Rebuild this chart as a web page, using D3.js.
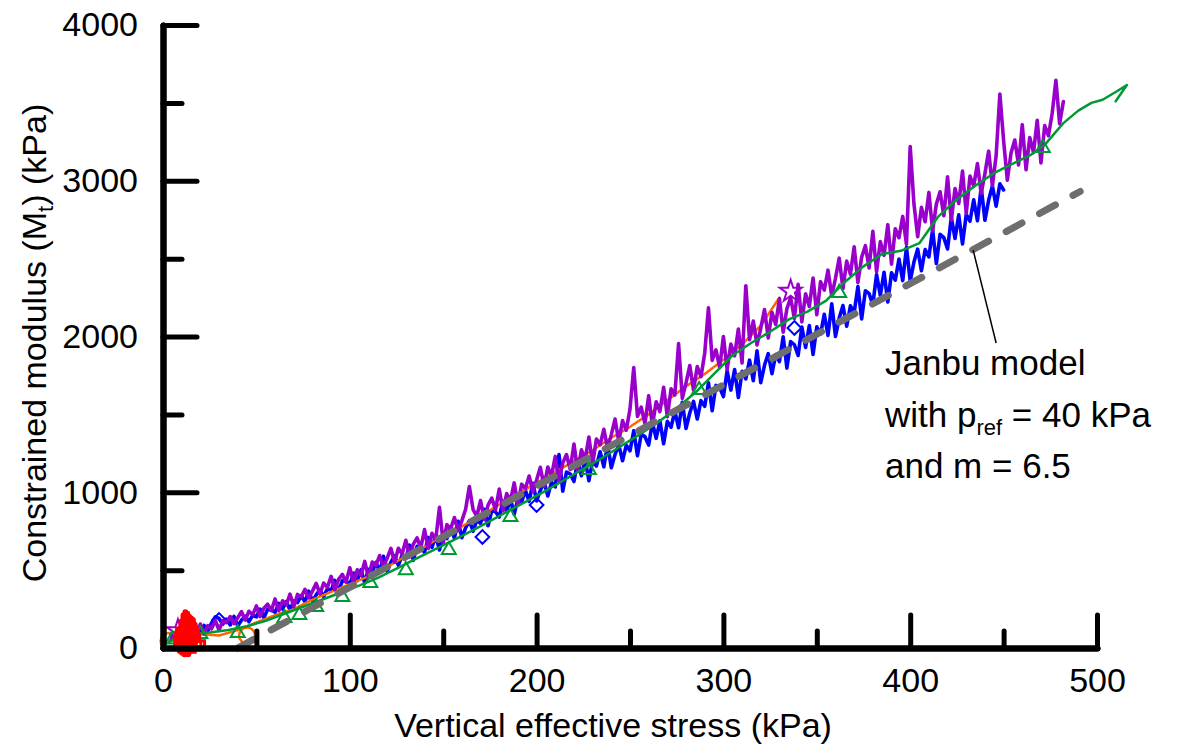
<!DOCTYPE html>
<html>
<head>
<meta charset="utf-8">
<script src="https://cdn.jsdelivr.net/npm/d3@7"></script>
<style>
  body { margin: 0; background: #fff; }
  svg { display: block; font-family: "Liberation Sans", Arial, sans-serif; }
</style>
</head>
<body>
<svg id="chart"></svg>
<script>
// ticks
const xMajor = [0, 100, 200, 300, 400, 500]
const xMinor = [50, 150, 250, 350, 450]
const yMajor = [0, 1000, 2000, 3000, 4000]
const yMinor = [500, 1500, 2500, 3500]

// [stress kPa, modulus kPa]
const purpleData = [
  [4,46],[6,96],[8,73],[10,123],[12,60],[14,106],[16,127],[18,89],[20,154],[22,89],
  [24,144],[26,123],[28,178],[30,113],[32,176],[34,163],[36,202],[38,157],[40,194],[42,234],
  [44,179],[46,236],[48,213],[50,270],[52,202],[54,255],[56,281],[58,240],[60,315],[62,239],
  [64,303],[66,277],[68,346],[70,265],[72,344],[74,328],[76,377],[78,321],[80,365],[82,415],
  [84,347],[86,417],[88,389],[90,460],[92,376],[94,441],[96,473],[98,423],[100,515],[102,421],
  [104,502],[106,467],[108,556],[110,450],[112,552],[114,530],[116,594],[118,520],[120,577],[122,640],
  [124,551],[126,640],[128,603],[130,692],[132,585],[134,667],[136,707],[138,642],[140,760],[142,639],
  [144,736],[146,696],[148,903],[150,675],[152,792],[154,766],[156,838],[158,753],[160,818],[162,891],
  [164,1036],[166,889],[168,846],[170,947],[172,824],[174,917],[176,962],[178,887],[180,1020],[182,881],
  [184,991],[186,945],[188,1060],[190,920],[192,1052],[194,1023],[196,1104],[198,1006],[200,1078],[202,1160],
  [204,1038],[206,1162],[208,1106],[210,1230],[212,1074],[214,1188],[216,1242],[218,1146],[220,1310],[222,1135],
  [224,1272],[226,1213],[228,1354],[230,1180],[232,1342],[234,1305],[236,1404],[238,1282],[240,1370],[242,1470],
  [244,1324],[246,1460],[248,1398],[250,1534],[252,1800],[254,1487],[256,1546],[258,1440],[260,1620],[262,1429],
  [264,1581],[266,1518],[268,1674],[270,1485],[272,1664],[274,1624],[276,1954],[278,1603],[280,1702],[282,1813],
  [284,1656],[286,1807],[288,1742],[290,1893],[292,2184],[294,1847],[296,1914],[298,1801],[300,2000],[302,1788],
  [304,1951],[306,1876],[308,2048],[310,1830],[312,2326],[314,1979],[316,2099],[318,1946],[320,2053],[322,2173],
  [324,1991],[326,2156],[328,2077],[330,2242],[332,2028],[334,2179],[336,2249],[338,2116],[340,2335],[342,2094],
  [344,2274],[346,2192],[348,2376],[350,2140],[352,2352],[354,2298],[356,2426],[358,2260],[360,2374],[362,2503],
  [364,2307],[366,2484],[368,2399],[370,2576],[372,2346],[374,2508],[376,2583],[378,2440],[380,2675],[382,2416],
  [384,2609],[386,2521],[388,2718],[390,2465],[392,2692],[394,2634],[396,2771],[398,2593],[400,3220],[402,2852],
  [404,2641],[406,2829],[408,2737],[410,2925],[412,2678],[414,2850],[416,2929],[418,2775],[420,3025],[422,2746],
  [424,2950],[426,2854],[428,3062],[430,2790],[432,3030],[434,2966],[436,3110],[438,2918],[440,3046],[442,3190],
  [444,2967],[446,3160],[448,3557],[450,3258],[452,3003],[454,3180],[456,3261],[458,3102],[460,3360],[462,3071],
  [464,3278],[466,3181],[468,3388],[470,3115],[472,3354],[474,3289],[476,3432],[478,3645],[480,3366],[482,3509]
]

const blueData = [
  [4,92],[6,53],[8,90],[10,77],[12,124],[14,64],[16,115],[18,109],[20,89],[22,145],
  [24,111],[26,161],[28,200],[30,190],[32,153],[34,185],[36,148],[38,203],[40,142],[42,178],
  [44,204],[46,169],[48,209],[50,200],[52,250],[54,194],[56,248],[58,246],[60,229],[62,286],
  [64,250],[66,298],[68,243],[70,303],[72,292],[74,336],[76,297],[78,365],[80,301],[82,341],
  [84,374],[86,330],[88,381],[90,369],[92,434],[94,363],[96,432],[98,430],[100,408],[102,481],
  [104,432],[106,502],[108,417],[110,505],[112,486],[114,550],[116,489],[118,589],[120,492],[122,551],
  [124,592],[126,531],[128,596],[130,577],[132,660],[134,563],[136,652],[138,645],[140,614],[142,709],
  [144,646],[146,722],[148,629],[150,725],[152,703],[154,773],[156,705],[158,814],[160,708],[162,771],
  [164,817],[166,750],[168,821],[170,800],[172,891],[174,785],[176,882],[178,875],[180,841],[182,944],
  [184,876],[186,958],[188,858],[190,961],[192,938],[194,1013],[196,941],[198,1058],[200,944],[202,1012],
  [204,1067],[206,976],[208,1065],[210,1034],[212,1242],[214,1007],[216,1130],[218,1117],[220,1069],[222,1199],
  [224,1106],[226,1207],[228,1074],[230,1202],[232,1168],[234,1260],[236,1163],[238,1309],[240,1158],[242,1243],
  [244,1304],[246,1202],[248,1301],[250,1266],[252,1394],[254,1235],[256,1372],[258,1357],[260,1303],[262,1449],
  [264,1346],[266,1459],[268,1312],[270,1455],[272,1418],[274,1521],[276,1414],[278,1577],[280,1410],[282,1509],
  [284,1583],[286,1470],[288,1588],[290,1552],[292,1703],[294,1524],[296,1686],[298,1672],[300,1614],[302,1780],
  [304,1656],[306,1788],[308,1608],[310,1776],[312,1728],[314,1848],[316,1716],[318,1908],[320,1704],[322,1815],
  [324,1890],[326,1761],[328,1884],[330,1839],[332,1998],[334,1797],[336,1968],[338,1947],[340,1878],[342,2061],
  [344,1930],[346,2070],[348,1885],[350,2063],[352,2015],[354,2143],[356,2007],[358,2210],[360,2000],[362,2118],
  [364,2199],[366,2066],[368,2197],[370,2152],[372,2321],[374,2113],[376,2294],[378,2275],[380,2205],[382,2398],
  [384,2264],[386,2412],[388,2222],[390,2409],[392,2362],[394,2497],[396,2359],[398,2572],[400,2356],[402,2478],
  [404,2561],[406,2423],[408,2558],[410,2511],[412,2685],[414,2469],[416,2656],[418,2635],[420,2562],[422,2765],
  [424,2630],[426,2781],[428,2594],[430,2784],[432,2740],[434,2878],[436,2743],[438,2959],[440,2746],[442,2876],
  [444,2967],[446,2837],[448,2980],[450,2941]
]

const greenData = [
  [3,40],[8,70],[15,90],[25,100],[35,115],[45,140],[55,175],[65,220],[75,265],[85,310],
  [95,355],[105,400],[115,450],[125,510],[135,570],[145,630],[155,690],[165,750],[175,815],[185,880],
  [195,945],[205,1010],[215,1080],[225,1150],[235,1220],[245,1295],[255,1370],[265,1450],[275,1540],[285,1640],
  [295,1760],[305,1880],[315,1960],[325,2030],[335,2110],[345,2160],[355,2230],[365,2350],[375,2450],[385,2530],
  [395,2550],[405,2600],[415,2770],[425,2880],[435,2970],[445,3050],[455,3110],[465,3170],[472,3230],[482,3370],
  [490,3450],[497,3500],[503,3520],[510,3570],[516,3615],[510,3510]
]

const orangeData = [
  [3,40],[10,70],[20,90],[30,80],[40,115],[50,165],[60,210],[70,250],[80,310],[90,360],
  [100,410],[110,460],[120,520],[130,590],[140,650],[150,720],[160,780],[170,850],[180,920],[190,990],
  [200,1060],[210,1130],[220,1200],[230,1270],[240,1350],[250,1420],[260,1500],[270,1590],[280,1680],[290,1760],
  [300,1850],[310,1950],[320,2070],[330,2250]
]

const redData = [
  [7,30],[8,120],[9,-20],[10,170],[10.5,-30],[11,210],[11.5,-40],[12,230],[12.5,-30],[13,220],
  [13.5,-40],[14,200],[14.5,-20],[15,190],[15.5,0],[16,180],[16.5,20],[17,150],[17.5,40],[18,120],[19,60]
]

// markers
const greenMarkers = [[5,55],[20,90],[40,96],[65,193],[73,212],[82,263],[96,327],[111,417],[130,500],
  [153,629],[186,841],[228,1143],[287,1656],[362,2280],[471,3210]]
const blueMarkers = [[30,180],[171,713],[200,918],[338,2055]]
const orangeMarkers = [[3,45],[10,60],[45,80]]
const purpleMarkers = [[8,110],[336,2290]]
const redMarkers = [[9,20],[12,-10],[15,0],[18,15],[20,20]]

// Janbu model, M = m (p - pref), pref = 40, m = 6.5
const janbuData = [[40, 0], [491, 2931]]
const leaderData = [[433.7, 2555], [446, 1958]]

const W = 1192, H = 744

const svg = d3.select('#chart')
  .attr('width', W)
  .attr('height', H)

const xScale = d3.scaleLinear().domain([0, 500]).range([163, 1097])
const yScale = d3.scaleLinear().domain([0, 4000]).range([648, 25])

const line = d3.line()
  .x(d => xScale(d[0]))
  .y(d => yScale(d[1]))

const drawSeries = (data, color, width) => {
  svg.append('path')
    .datum(data)
    .attr('fill', 'none')
    .attr('stroke', color)
    .attr('stroke-width', width)
    .attr('stroke-linejoin', 'round')
    .attr('stroke-linecap', 'round')
    .attr('d', line)
}

const drawMarkers = (data, color, type, size, width) => {
  svg.append('g')
    .selectAll('path')
    .data(data)
    .enter()
    .append('path')
    .attr('transform', d => `translate(${xScale(d[0])},${yScale(d[1])})`)
    .attr('d', d3.symbol().type(type).size(size))
    .attr('fill', 'none')
    .attr('stroke', color)
    .attr('stroke-width', width)
}

// series
drawSeries(blueData, '#0000ff', 3.6)
drawMarkers(blueMarkers, '#0000ff', d3.symbolDiamond2, 120, 2)
drawSeries(orangeData, '#ff6600', 2.5)
drawMarkers(orangeMarkers, '#ff6600', d3.symbolCircle, 200, 2.5)
drawSeries(purpleData, '#9900cc', 3.6)
drawMarkers(purpleMarkers, '#9900cc', d3.symbolStar, 150, 2)
drawSeries(greenData, '#009933', 2.5)
drawMarkers(greenMarkers, '#009933', d3.symbolTriangle2, 140, 2)
drawSeries(redData, '#ff0000', 6)
drawMarkers(redMarkers, '#ff0000', d3.symbolSquare2, 90, 3)

// Janbu dashed line
svg.append('path')
  .datum(janbuData)
  .attr('fill', 'none')
  .attr('stroke', '#6e6e6e')
  .attr('stroke-width', 7)
  .attr('stroke-linecap', 'round')
  .attr('stroke-dasharray', '18,20')
  .attr('d', line)

// leader line
svg.append('path')
  .datum(leaderData)
  .attr('fill', 'none')
  .attr('stroke', '#000')
  .attr('stroke-width', 1.5)
  .attr('d', line)

// axes
const styleAxis = (g) => {
  g.select('.domain').attr('stroke-width', 6).attr('stroke-linecap', 'round')
  g.selectAll('.tick line').attr('stroke-width', 5).attr('stroke-linecap', 'round')
  g.selectAll('.tick text').attr('font-size', '34px').attr('fill', '#000')
    .attr('font-family', '"Liberation Sans", Arial, sans-serif')
}

const xAxisMinor = svg.append('g')
  .attr('transform', 'translate(0,648)')
  .call(d3.axisBottom(xScale).tickValues(xMinor).tickSize(-17).tickSizeOuter(0).tickFormat(''))
styleAxis(xAxisMinor)

const yAxisMinor = svg.append('g')
  .attr('transform', `translate(${xScale(0)},0)`)
  .call(d3.axisLeft(yScale).tickValues(yMinor).tickSize(-19).tickSizeOuter(0).tickFormat(''))
styleAxis(yAxisMinor)

const xAxis = svg.append('g')
  .attr('transform', 'translate(0,648)')
  .call(d3.axisBottom(xScale).tickValues(xMajor).tickSize(-33).tickSizeOuter(0).tickPadding(20).tickFormat(d3.format('d')))
styleAxis(xAxis)

const yAxis = svg.append('g')
  .attr('transform', `translate(${xScale(0)},0)`)
  .call(d3.axisLeft(yScale).tickValues(yMajor).tickSize(-34).tickSizeOuter(0).tickPadding(25).tickFormat(d3.format('d')))
styleAxis(yAxis)

// axis titles
svg.append('text')
  .attr('x', 613)
  .attr('y', 737)
  .attr('text-anchor', 'middle')
  .attr('font-size', '34px')
  .text('Vertical effective stress (kPa)')

const yTitle = svg.append('text')
  .attr('transform', 'translate(46,343) rotate(-90)')
  .attr('text-anchor', 'middle')
  .attr('font-size', '34px')
yTitle.append('tspan').text('Constrained modulus (M')
yTitle.append('tspan').attr('font-size', '22px').attr('dy', 7).text('t')
yTitle.append('tspan').attr('dy', -7).text(') (kPa)')

// annotation
const note = svg.append('g')
  .attr('font-size', '35px')
note.append('text').attr('x', 885).attr('y', 375).text('Janbu model')
const l2 = note.append('text').attr('x', 885).attr('y', 427)
l2.append('tspan').text('with p')
l2.append('tspan').attr('font-size', '22px').attr('dy', 8).text('ref')
l2.append('tspan').attr('dy', -8).text(' = 40 kPa')
note.append('text').attr('x', 885).attr('y', 478).text('and m = 6.5')
</script>
</body>
</html>
